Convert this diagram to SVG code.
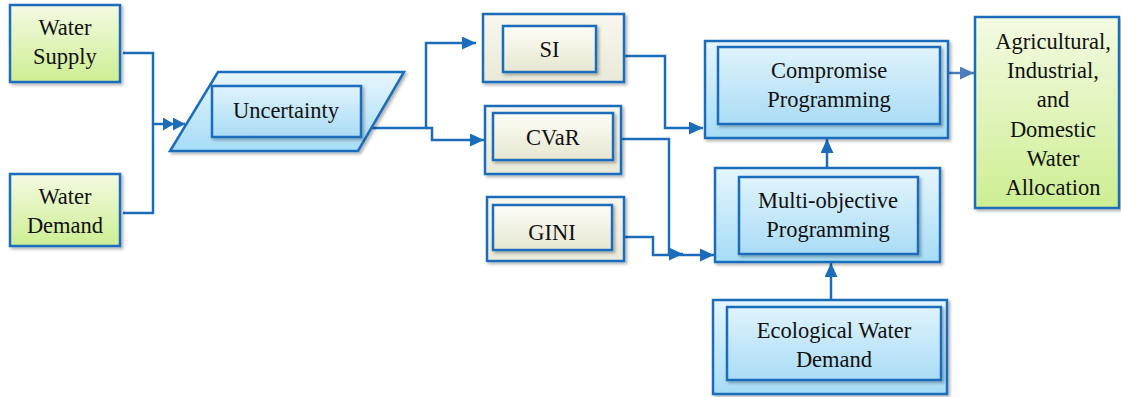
<svg xmlns="http://www.w3.org/2000/svg" width="1121" height="397" viewBox="0 0 1121 397" font-family="'Liberation Serif', 'DejaVu Serif', serif">
<defs>
<linearGradient id="gGreen" x1="0" y1="0" x2="0" y2="1"><stop offset="0" stop-color="#f3fae2"/><stop offset="1" stop-color="#cdee92"/></linearGradient>
<linearGradient id="gBlue" x1="0" y1="0" x2="0" y2="1"><stop offset="0" stop-color="#e6f6fd"/><stop offset="1" stop-color="#a6dcf6"/></linearGradient>
<linearGradient id="gBlueIn" x1="0" y1="0" x2="0" y2="1"><stop offset="0" stop-color="#dff3fc"/><stop offset="1" stop-color="#aadcf5"/></linearGradient>
<linearGradient id="gCream" x1="0" y1="0" x2="0" y2="1"><stop offset="0" stop-color="#f7f7ee"/><stop offset="1" stop-color="#e9e9d8"/></linearGradient>
<linearGradient id="gCreamIn" x1="0" y1="0" x2="0" y2="1"><stop offset="0" stop-color="#fdfdf6"/><stop offset="1" stop-color="#e6e6d2"/></linearGradient>
<filter id="sh" x="-10%" y="-10%" width="130%" height="130%"><feDropShadow dx="2" dy="2" stdDeviation="1.5" flood-color="#000" flood-opacity="0.3"/></filter>
<marker id="arr" markerUnits="userSpaceOnUse" markerWidth="15" markerHeight="13" refX="14" refY="6.5" orient="auto"><path d="M0,0 L14,6.5 L0,13 Z" fill="#1c6cbc"/></marker>
<marker id="arrL" markerUnits="userSpaceOnUse" markerWidth="15" markerHeight="13" refX="14" refY="6.5" orient="auto"><path d="M0,0 L14,6.5 L0,13 Z" fill="#4a7ebb"/></marker>
<marker id="arr2" markerUnits="userSpaceOnUse" markerWidth="24" markerHeight="13" refX="22" refY="6.5" orient="auto"><path d="M0,0 L11,6.5 L0,13 Z M10,0 L22,6.5 L10,13 Z" fill="#1c6cbc"/></marker>
</defs>
<style>
text{font-family:'Liberation Serif','DejaVu Serif',serif;font-size:22.5px;fill:#111;text-anchor:middle}
.b{stroke:#1c6cbc;stroke-width:2.5}
.green{fill:url(#gGreen)}
.blue{fill:url(#gBlue)}
.bluein{fill:url(#gBlueIn)}
.cream{fill:url(#gCream)}
.creamin{fill:url(#gCreamIn)}
.c{fill:none;stroke:#1c6cbc;stroke-width:2.5}
</style>
<rect width="1121" height="397" fill="#fff"/>
<g id="connectors">
<path class="c" d="M123,53 H153 V213 H123"/>
<path class="c" d="M153,124 H185" marker-end="url(#arr2)"/>
<path class="c" d="M372,128 H426 V43 H476" marker-end="url(#arr)"/>
<path class="c" d="M426,128 H432 V140 H484" marker-end="url(#arr)"/>
<path class="c" d="M625,56 H665 V128 H703" marker-end="url(#arr)"/>
<path class="c" d="M622,139 H669 V254 H683" marker-end="url(#arr)"/>
<path class="c" d="M625,237 H653 V255 H714" marker-end="url(#arr)"/>
<path class="c" d="M827,168 V139" marker-end="url(#arr)"/>
<path class="c" d="M831,300 V263" marker-end="url(#arr)"/>
<path d="M948,73 H974" fill="none" stroke="#4a7ebb" stroke-width="2.5" marker-end="url(#arrL)"/>
</g>
<g id="water-supply">
<rect class="b green" x="10" y="5" width="110" height="77" filter="url(#sh)"/>
<text x="65" y="35">Water</text><text x="65" y="64">Supply</text>
</g>
<g id="water-demand">
<rect class="b green" x="10" y="174" width="110" height="72" filter="url(#sh)"/>
<text x="65" y="204">Water</text><text x="65" y="233">Demand</text>
</g>
<g id="uncertainty">
<polygon class="b blue" points="218,72 404,72 358,151 170,151" filter="url(#sh)"/>
<rect class="b bluein" x="212" y="86" width="149" height="51" filter="url(#sh)"/>
<text x="286" y="118">Uncertainty</text>
</g>
<g id="si">
<rect class="b cream" x="483" y="14" width="141" height="68" filter="url(#sh)"/>
<rect class="b creamin" x="503" y="26" width="93" height="46" filter="url(#sh)"/>
<text x="549.5" y="57">SI</text>
</g>
<g id="cvar">
<rect class="b cream" x="485" y="106" width="136" height="68" filter="url(#sh)"/>
<rect class="b creamin" x="493" y="113" width="120" height="47" filter="url(#sh)"/>
<text x="553" y="145">CVaR</text>
</g>
<g id="gini">
<rect class="b cream" x="487" y="197" width="137" height="64" filter="url(#sh)"/>
<rect class="b creamin" x="493" y="205" width="119" height="45" filter="url(#sh)"/>
<text x="552" y="240">GINI</text>
</g>
<g id="compromise">
<rect class="b blue" x="705" y="41" width="243" height="97" filter="url(#sh)"/>
<rect class="b bluein" x="718" y="47" width="222" height="77" filter="url(#sh)"/>
<text x="829" y="78">Compromise</text><text x="829" y="107">Programming</text>
</g>
<g id="multi-objective">
<rect class="b blue" x="715" y="168" width="225" height="94" filter="url(#sh)"/>
<rect class="b bluein" x="739" y="177" width="179" height="77" filter="url(#sh)"/>
<text x="828" y="208">Multi-objective</text><text x="828" y="237">Programming</text>
</g>
<g id="ecological">
<rect class="b blue" x="713" y="300" width="234" height="94" filter="url(#sh)"/>
<rect class="b bluein" x="727" y="307" width="214" height="73" filter="url(#sh)"/>
<text x="834" y="338">Ecological Water</text><text x="834" y="367">Demand</text>
</g>
<g id="allocation">
<rect class="b green" x="975" y="17" width="144" height="191" filter="url(#sh)"/>
<text x="1053" y="49">Agricultural,</text><text x="1053" y="78">Industrial,</text><text x="1053" y="107">and</text><text x="1053" y="137">Domestic</text><text x="1053" y="166">Water</text><text x="1053" y="195">Allocation</text>
</g>
</svg>
